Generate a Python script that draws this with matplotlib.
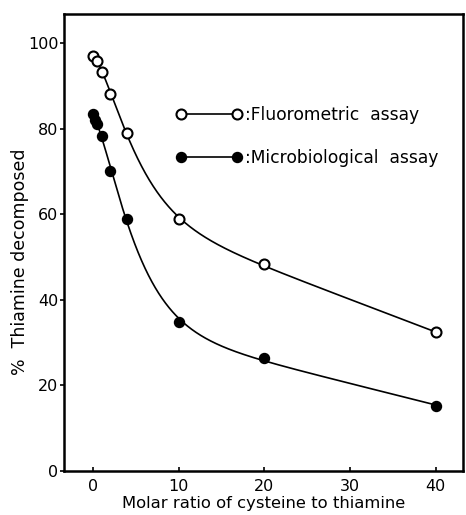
import numpy as np
import matplotlib
matplotlib.use('Agg')
import matplotlib.pyplot as plt

# data
fluor_x = [0, 0.5, 1, 2, 4, 10, 20, 40]
fluor_y = [97.0, 95.8, 93.3, 88.2, 79.0, 58.8, 48.3, 32.4]
micro_x = [0, 0.25, 0.5, 1, 2, 4, 10, 20, 40]
micro_y = [83.5, 82.0, 81.2, 78.4, 70.0, 59.0, 34.9, 26.3, 15.3]

xticks = [0, 10, 20, 30, 40]
yticks = [0, 20, 40, 60, 80, 100]


def smooth(x, y, xs):
    """least-squares fit of a + b*x + c*exp(-x/t1) + d*exp(-x/t2), like the drawn curves"""
    x = np.asarray(x, float)
    y = np.asarray(y, float)
    best = None
    for t1 in np.linspace(0.5, 8, 40):
        for t2 in np.linspace(3, 30, 55):
            if t2 <= t1:
                continue
            X = np.column_stack([np.ones_like(x), x, np.exp(-x / t1), np.exp(-x / t2)])
            coef, *_ = np.linalg.lstsq(X, y, rcond=None)
            err = np.sum((X @ coef - y) ** 2)
            if best is None or err < best[0]:
                best = (err, t1, t2, coef)
    _, t1, t2, coef = best
    Xs = np.column_stack([np.ones_like(xs), xs, np.exp(-xs / t1), np.exp(-xs / t2)])
    return Xs @ coef


plt.rcParams['font.family'] = ['DejaVu Sans']
fig = plt.figure(figsize=(4.66, 5.15), dpi=100)
ax = fig.add_axes([0.1373, 0.0854, 0.8563, 0.8874])

xs = np.linspace(0, 40, 800)
ax.plot(xs, smooth(fluor_x, fluor_y, xs), color='black', lw=1.2, zorder=1)
ax.plot(xs, smooth(micro_x, micro_y, xs), color='black', lw=1.2, zorder=1)
ax.plot(fluor_x, fluor_y, 'o', ms=7.2, mfc='white', mec='black', mew=1.5, zorder=3)
ax.plot(micro_x, micro_y, 'o', ms=7.2, mfc='black', mec='black', zorder=3)

# key
h1, = ax.plot([], [], '-o', color='black', lw=1.2, ms=7.2, mfc='white', mew=1.5)
h2, = ax.plot([], [], '-o', color='black', lw=1.2, ms=7.2, mfc='black')
ax.legend([h1, h2], [':Fluorometric  assay', ':Microbiological  assay'],
          numpoints=2, frameon=False, loc='upper left',
          bbox_to_anchor=(0.242, 0.832), handlelength=3.9, handletextpad=0.15,
          labelspacing=1.45, fontsize=12.3)

ax.set_xlim(-3.4, 43.2)
ax.set_ylim(0, 106.8)
ax.set_xticks(xticks)
ax.set_yticks(yticks)
ax.tick_params(axis='both', labelsize=11.5, length=3, width=1.2)
ax.tick_params(axis='x', direction='in', pad=6)
ax.tick_params(axis='y', direction='out', pad=1)
for s in ax.spines.values():
    s.set_linewidth(1.8)

ax.set_xlabel('Molar ratio of cysteine to thiamine', fontsize=11.8, labelpad=1)
ax.set_ylabel('%  Thiamine decomposed', fontsize=12.5, va='center')
ax.yaxis.set_label_coords(-0.11, 0.457)

fig.savefig('out.png', dpi=100)
